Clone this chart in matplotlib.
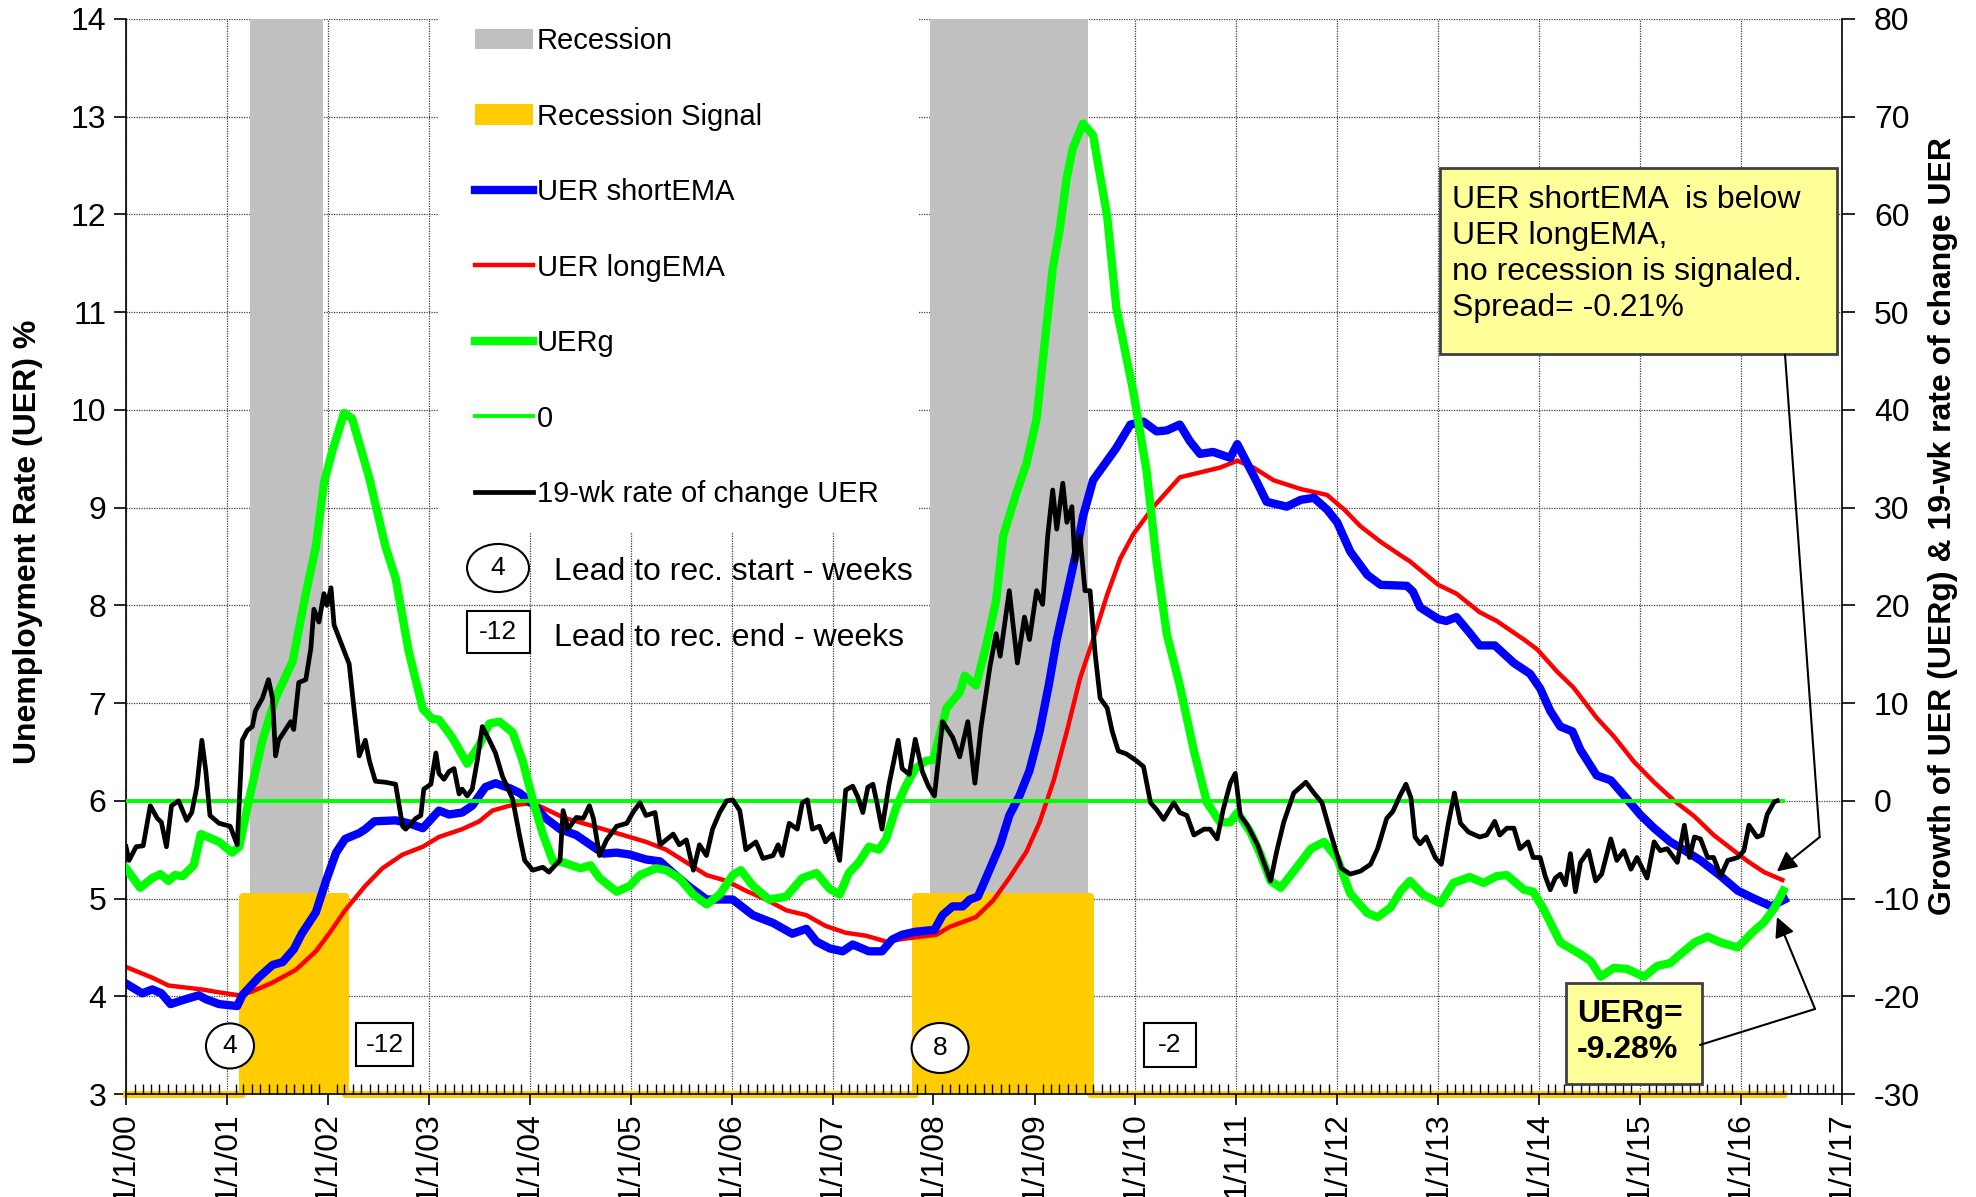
import matplotlib
matplotlib.use("Agg")
import matplotlib.pyplot as plt
import matplotlib.dates as mdates
from matplotlib.patches import Rectangle, Patch, Ellipse
from matplotlib.lines import Line2D
from matplotlib.ticker import FuncFormatter, MultipleLocator
import datetime as dt
import numpy as np

plt.rcParams['font.family'] = ['Liberation Sans', 'DejaVu Sans']
plt.rcParams['axes.unicode_minus'] = False

# ---------------- data (decimal years) ----------------
blue_t = [2000.00, 2000.16, 2000.26, 2000.35, 2000.44, 2000.59, 2000.72, 2000.79, 2000.92, 2001.10,
          2001.15, 2001.31, 2001.45, 2001.55, 2001.66, 2001.74, 2001.88, 2001.98, 2002.08, 2002.17,
          2002.31, 2002.37, 2002.46, 2002.67, 2002.80, 2002.94, 2003.10, 2003.20, 2003.33, 2003.43,
          2003.56, 2003.66, 2003.80, 2003.90, 2004.02, 2004.16, 2004.30, 2004.46, 2004.60, 2004.73,
          2004.86, 2004.99, 2005.15, 2005.29, 2005.42, 2005.58, 2005.75, 2005.88, 2006.01, 2006.11,
          2006.21, 2006.41, 2006.60, 2006.74, 2006.84, 2006.97, 2007.10, 2007.20, 2007.36, 2007.49,
          2007.59, 2007.69, 2007.82, 2008.01, 2008.09, 2008.19, 2008.29, 2008.36, 2008.44, 2008.52,
          2008.66, 2008.75, 2008.85, 2008.95, 2009.05, 2009.14, 2009.22, 2009.32, 2009.42, 2009.48,
          2009.58, 2009.72, 2009.81, 2009.95, 2010.08, 2010.21, 2010.31, 2010.44, 2010.54, 2010.64,
          2010.77, 2010.94, 2011.01, 2011.11, 2011.21, 2011.30, 2011.50, 2011.64, 2011.77, 2011.90,
          2012.00, 2012.13, 2012.30, 2012.43, 2012.69, 2012.75, 2012.82, 2013.00, 2013.08, 2013.18,
          2013.31, 2013.41, 2013.56, 2013.75, 2013.91, 2014.01, 2014.11, 2014.21, 2014.33, 2014.41,
          2014.57, 2014.71, 2014.87, 2015.00, 2015.14, 2015.30, 2015.40, 2015.60, 2015.80, 2015.97,
          2016.13, 2016.30, 2016.43]
blue_v = [4.13, 4.03, 4.07, 4.03, 3.92, 3.97, 4.01, 3.97, 3.92, 3.90,
          4.01, 4.19, 4.32, 4.35, 4.48, 4.64, 4.86, 5.18, 5.47, 5.61,
          5.67, 5.71, 5.79, 5.80, 5.77, 5.72, 5.90, 5.86, 5.88, 5.95,
          6.14, 6.18, 6.13, 6.08, 5.98, 5.82, 5.71, 5.65, 5.55, 5.46,
          5.47, 5.45, 5.40, 5.38, 5.26, 5.12, 4.99, 4.99, 4.99, 4.91,
          4.83, 4.75, 4.64, 4.69, 4.56, 4.49, 4.46, 4.53, 4.46, 4.46,
          4.58, 4.63, 4.66, 4.68, 4.83, 4.92, 4.92, 4.99, 5.02, 5.21,
          5.55, 5.85, 6.05, 6.31, 6.71, 7.18, 7.65, 8.11, 8.58, 8.91,
          9.28, 9.48, 9.61, 9.85, 9.88, 9.78, 9.79, 9.85, 9.68, 9.55,
          9.57, 9.51, 9.65, 9.45, 9.25, 9.06, 9.01, 9.08, 9.10, 8.98,
          8.85, 8.55, 8.31, 8.21, 8.20, 8.14, 7.98, 7.86, 7.84, 7.88,
          7.72, 7.59, 7.59, 7.41, 7.30, 7.15, 6.92, 6.76, 6.71, 6.52,
          6.26, 6.21, 6.02, 5.86, 5.72, 5.58, 5.52, 5.39, 5.23, 5.08,
          5.00, 4.92, 4.99]

red_t = [2000.00, 2000.26, 2000.42, 2000.75, 2000.92, 2001.12, 2001.25, 2001.45, 2001.68, 2001.88,
         2002.01, 2002.17, 2002.37, 2002.54, 2002.74, 2002.94, 2003.10, 2003.33, 2003.50, 2003.63,
         2003.80, 2003.96, 2004.09, 2004.29, 2004.36, 2004.63, 2004.89, 2005.15, 2005.35, 2005.55,
         2005.75, 2005.95, 2006.14, 2006.34, 2006.54, 2006.74, 2006.93, 2007.13, 2007.33, 2007.53,
         2007.72, 2008.03, 2008.16, 2008.42, 2008.59, 2008.75, 2008.92, 2009.05, 2009.19, 2009.32,
         2009.45, 2009.58, 2009.72, 2009.85, 2009.98, 2010.18, 2010.44, 2010.64, 2010.84, 2011.01,
         2011.17, 2011.37, 2011.64, 2011.90, 2012.07, 2012.23, 2012.43, 2012.63, 2012.72, 2013.00,
         2013.18, 2013.41, 2013.58, 2013.85, 2013.98, 2014.18, 2014.34, 2014.57, 2014.74, 2014.94,
         2015.14, 2015.34, 2015.54, 2015.73, 2015.93, 2016.07, 2016.23, 2016.41]
red_v = [4.30, 4.19, 4.11, 4.07, 4.04, 4.01, 4.05, 4.14, 4.27, 4.46,
         4.64, 4.88, 5.13, 5.31, 5.45, 5.53, 5.63, 5.71, 5.79, 5.90,
         5.95, 5.97, 5.95, 5.85, 5.82, 5.74, 5.66, 5.58, 5.50, 5.37,
         5.24, 5.18, 5.08, 4.99, 4.88, 4.83, 4.72, 4.65, 4.62, 4.56,
         4.59, 4.63, 4.71, 4.81, 4.98, 5.21, 5.48, 5.78, 6.21, 6.71,
         7.25, 7.65, 8.11, 8.48, 8.73, 9.01, 9.31, 9.36, 9.41, 9.48,
         9.41, 9.28, 9.19, 9.13, 8.98, 8.81, 8.65, 8.51, 8.45, 8.21,
         8.12, 7.93, 7.84, 7.65, 7.55, 7.32, 7.16, 6.85, 6.66, 6.40,
         6.19, 6.00, 5.84, 5.65, 5.49, 5.38, 5.27, 5.19]

uerg_t = [2000.00, 2000.14, 2000.26, 2000.34, 2000.42, 2000.48, 2000.56, 2000.67, 2000.74, 2000.92,
          2001.05, 2001.12, 2001.21, 2001.35, 2001.48, 2001.65, 2001.78, 2001.88, 2001.96, 2002.04,
          2002.16, 2002.24, 2002.41, 2002.57, 2002.67, 2002.80, 2002.94, 2003.03, 2003.10, 2003.23,
          2003.38, 2003.50, 2003.60, 2003.70, 2003.83, 2003.93, 2004.03, 2004.13, 2004.23, 2004.33,
          2004.50, 2004.60, 2004.69, 2004.86, 2004.99, 2005.09, 2005.25, 2005.35, 2005.48, 2005.62,
          2005.75, 2005.88, 2006.01, 2006.09, 2006.21, 2006.37, 2006.54, 2006.70, 2006.84, 2006.97,
          2007.07, 2007.16, 2007.26, 2007.36, 2007.46, 2007.53, 2007.63, 2007.72, 2007.82, 2007.93,
          2008.00, 2008.13, 2008.26, 2008.31, 2008.42, 2008.52, 2008.62, 2008.69, 2008.82, 2008.92,
          2009.02, 2009.11, 2009.18, 2009.25, 2009.32, 2009.38, 2009.48, 2009.58, 2009.72, 2009.81,
          2009.98, 2010.11, 2010.21, 2010.31, 2010.44, 2010.58, 2010.71, 2010.84, 2010.94, 2011.01,
          2011.14, 2011.24, 2011.34, 2011.44, 2011.57, 2011.74, 2011.87, 2012.00, 2012.13, 2012.30,
          2012.40, 2012.53, 2012.63, 2012.72, 2012.85, 2013.02, 2013.15, 2013.31, 2013.45, 2013.58,
          2013.68, 2013.85, 2013.94, 2014.04, 2014.21, 2014.41, 2014.51, 2014.61, 2014.74, 2014.87,
          2015.04, 2015.17, 2015.30, 2015.40, 2015.54, 2015.67, 2015.80, 2015.97, 2016.10, 2016.23,
          2016.33, 2016.42]
uerg_v = [-6.9, -8.9, -7.9, -7.5, -8.2, -7.6, -7.7, -6.6, -3.4, -4.2,
          -5.3, -4.7, -0.2, 6.2, 10.5, 14.3, 21.2, 26.0, 32.5, 35.7,
          39.7, 39.1, 33.0, 26.0, 22.8, 15.3, 9.4, 8.4, 8.3, 6.5,
          3.8, 5.7, 7.9, 8.1, 7.0, 4.1, 0.1, -3.4, -6.2, -6.3,
          -6.9, -6.6, -7.9, -9.3, -8.7, -7.6, -6.9, -7.1, -7.9, -9.6,
          -10.6, -9.6, -7.6, -7.1, -8.7, -10.1, -9.8, -7.9, -7.4, -9.0,
          -9.6, -7.4, -6.3, -4.7, -5.0, -3.9, -0.7, 1.4, 3.3, 4.1,
          4.2, 9.5, 11.1, 12.8, 11.8, 15.8, 20.5, 27.1, 31.5, 34.5,
          39.1, 47.8, 54.5, 58.5, 63.8, 66.8, 69.3, 68.1, 59.8, 50.5,
          41.8, 33.8, 24.5, 17.1, 11.8, 5.1, -0.2, -2.2, -2.2, -1.2,
          -3.2, -5.5, -8.2, -8.9, -7.2, -4.9, -4.2, -5.9, -9.5, -11.5,
          -11.9, -10.9, -9.2, -8.2, -9.6, -10.5, -8.4, -7.8, -8.4, -7.7,
          -7.6, -9.1, -9.3, -11.0, -14.5, -15.7, -16.4, -18.0, -17.1, -17.2,
          -18.0, -16.9, -16.6, -15.7, -14.5, -13.9, -14.5, -15.0, -13.6, -12.4,
          -11.0, -9.2]

roc_t = [2000.00, 2000.03, 2000.10, 2000.17, 2000.24, 2000.31, 2000.35, 2000.40, 2000.45, 2000.52,
         2000.60, 2000.65, 2000.70, 2000.75, 2000.79, 2000.83, 2000.92, 2001.03, 2001.10, 2001.15,
         2001.20, 2001.25, 2001.28, 2001.35, 2001.41, 2001.45, 2001.48, 2001.51, 2001.58, 2001.63,
         2001.66, 2001.71, 2001.78, 2001.83, 2001.86, 2001.91, 2001.96, 2001.99, 2002.03, 2002.06,
         2002.12, 2002.21, 2002.26, 2002.31, 2002.37, 2002.41, 2002.47, 2002.57, 2002.67, 2002.74,
         2002.77, 2002.87, 2002.92, 2002.95, 2003.02, 2003.07, 2003.10, 2003.15, 2003.20, 2003.25,
         2003.30, 2003.33, 2003.38, 2003.43, 2003.48, 2003.53, 2003.60, 2003.66, 2003.73, 2003.83,
         2003.90, 2003.95, 2004.03, 2004.13, 2004.19, 2004.26, 2004.30, 2004.33, 2004.38, 2004.46,
         2004.53, 2004.59, 2004.63, 2004.69, 2004.76, 2004.86, 2004.96, 2005.02, 2005.09, 2005.15,
         2005.24, 2005.29, 2005.42, 2005.48, 2005.55, 2005.62, 2005.68, 2005.75, 2005.81, 2005.88,
         2005.95, 2006.01, 2006.08, 2006.14, 2006.24, 2006.31, 2006.41, 2006.46, 2006.50, 2006.57,
         2006.65, 2006.70, 2006.75, 2006.80, 2006.87, 2006.93, 2007.00, 2007.07, 2007.13, 2007.20,
         2007.25, 2007.30, 2007.35, 2007.40, 2007.44, 2007.49, 2007.56, 2007.65, 2007.69, 2007.76,
         2007.82, 2007.89, 2007.95, 2008.01, 2008.09, 2008.19, 2008.26, 2008.34, 2008.41, 2008.47,
         2008.56, 2008.62, 2008.66, 2008.75, 2008.83, 2008.90, 2008.95, 2009.02, 2009.08, 2009.13,
         2009.18, 2009.22, 2009.28, 2009.32, 2009.37, 2009.40, 2009.45, 2009.50, 2009.55, 2009.60,
         2009.65, 2009.72, 2009.77, 2009.83, 2009.91, 2010.01, 2010.08, 2010.15, 2010.21, 2010.28,
         2010.38, 2010.44, 2010.51, 2010.58, 2010.68, 2010.74, 2010.81, 2010.87, 2010.94, 2010.99,
         2011.04, 2011.11, 2011.21, 2011.27, 2011.34, 2011.40, 2011.47, 2011.57, 2011.69, 2011.77,
         2011.85, 2011.94, 2012.04, 2012.13, 2012.23, 2012.33, 2012.40, 2012.49, 2012.55, 2012.62,
         2012.68, 2012.73, 2012.77, 2012.82, 2012.88, 2012.97, 2013.03, 2013.10, 2013.16, 2013.22,
         2013.30, 2013.41, 2013.48, 2013.56, 2013.61, 2013.68, 2013.75, 2013.81, 2013.89, 2013.94,
         2014.01, 2014.06, 2014.11, 2014.16, 2014.21, 2014.26, 2014.31, 2014.36, 2014.41, 2014.49,
         2014.56, 2014.62, 2014.71, 2014.77, 2014.84, 2014.91, 2014.97, 2015.07, 2015.14, 2015.20,
         2015.27, 2015.37, 2015.44, 2015.49, 2015.54, 2015.60, 2015.67, 2015.73, 2015.80, 2015.87,
         2015.97, 2016.03, 2016.08, 2016.16, 2016.21, 2016.26, 2016.33, 2016.36]
roc_v = [-4.7, -6.1, -4.7, -4.6, -0.5, -1.8, -2.2, -4.7, -0.5, 0.0,
         -2.0, -1.2, 1.4, 6.2, 3.0, -1.5, -2.3, -2.6, -4.5, 6.2,
         7.2, 7.6, 9.2, 10.5, 12.4, 10.5, 4.6, 6.2, 7.3, 8.1,
         7.3, 12.1, 12.4, 15.6, 19.6, 18.3, 21.2, 20.0, 21.8, 18.0,
         16.4, 14.0, 9.2, 4.6, 6.2, 4.1, 2.0, 1.9, 1.7, -2.6,
         -2.9, -1.8, -1.5, 1.2, 1.7, 4.9, 2.8, 2.2, 3.0, 3.3,
         0.7, 1.2, 0.5, 1.2, 4.1, 7.6, 6.2, 4.9, 2.5, 0.2,
         -3.6, -6.1, -7.1, -6.8, -7.3, -6.5, -6.1, -1.0, -2.9, -1.7,
         -1.8, -0.5, -1.8, -5.6, -4.0, -2.6, -2.3, -1.2, -0.2, -1.5,
         -1.2, -4.5, -3.4, -4.5, -4.0, -7.1, -4.5, -5.6, -2.9, -1.2,
         0.0, 0.1, -1.0, -5.0, -4.2, -5.9, -5.6, -4.5, -5.6, -2.3,
         -2.9, -0.2, 0.1, -2.9, -2.6, -4.2, -3.4, -6.1, 1.1, 1.5,
         0.4, -1.2, 1.4, 1.7, -0.2, -2.9, 1.7, 6.2, 3.3, 2.7,
         6.3, 3.0, 1.5, 0.5, 8.1, 6.5, 4.5, 8.1, 1.8, 7.5,
         13.8, 17.1, 14.8, 21.5, 14.1, 18.8, 16.5, 21.5, 20.1, 27.1,
         31.8, 27.8, 32.5, 28.5, 30.1, 24.5, 27.1, 21.5, 21.5, 15.1,
         10.5, 9.5, 7.1, 5.1, 4.8, 4.1, 3.5, -0.2, -0.9, -1.9,
         -0.2, -1.2, -1.5, -3.5, -2.9, -2.9, -3.9, -0.9, 1.8, 2.8,
         -1.5, -2.5, -4.5, -6.2, -8.2, -5.2, -2.2, 0.8, 1.9, 0.8,
         -0.2, -3.5, -6.9, -7.5, -7.2, -6.5, -4.9, -1.8, -1.1, 0.5,
         1.7, 0.3, -3.7, -4.4, -3.7, -5.8, -6.5, -2.3, 0.8, -2.3,
         -3.2, -3.7, -3.5, -2.1, -3.5, -2.8, -2.8, -4.9, -4.2, -5.8,
         -5.8, -7.7, -9.1, -7.9, -7.5, -8.6, -5.4, -9.3, -6.3, -5.1,
         -8.2, -7.5, -3.9, -6.1, -5.1, -7.0, -5.8, -7.9, -4.2, -5.1,
         -4.9, -6.3, -2.5, -5.8, -3.7, -3.9, -5.8, -5.8, -7.7, -6.1,
         -5.8, -5.1, -2.5, -3.7, -3.5, -1.4, -0.1, 0.0]

rec_start = ["2001-03-23", "2007-12-20"]
rec_end = ["2001-12-14", "2009-07-12"]
sig_start = ["2001-02-23", "2007-10-25"]
sig_end = ["2002-03-04", "2009-07-19"]
sig_level = 5.03

lead_start = ["4", "8"]
lead_end = ["-12", "-2"]

legend_labels = ["Recession", "Recession Signal", "UER shortEMA", "UER longEMA",
                 "UERg", "0", "19-wk rate of change UER"]

C_BLUE, C_RED, C_GREEN, C_BLACK = "#0000FF", "#FF0000", "#00FF00", "#000000"
C_GRAY, C_YEL, C_BOX = "#C0C0C0", "#FFCC00", "#FFFF99"


def to_dt(y):
    yi = int(np.floor(y))
    a = dt.datetime(yi, 1, 1)
    b = dt.datetime(yi + 1, 1, 1)
    return a + (b - a) * (y - yi)


def dts(lst):
    return [to_dt(v) for v in lst]


def pdt(s):
    return dt.datetime.strptime(s, "%Y-%m-%d")


W, H = 1976, 1197
fig = plt.figure(figsize=(W / 100, H / 100), dpi=100)
ax = fig.add_axes([126 / W, 1 - 1094 / H, 1716 / W, 1075 / H])
ax2 = ax.twinx()

ax.set_xlim(dt.datetime(2000, 1, 1), dt.datetime(2017, 1, 1))
ax.set_ylim(3, 14)
ax2.set_ylim(-30, 80)
ax.set_axisbelow(True)

# gridlines on ax
ax.xaxis.set_major_locator(mdates.YearLocator())
ax.xaxis.set_minor_locator(mdates.MonthLocator())
ax.yaxis.set_major_locator(MultipleLocator(1))
ax2.yaxis.set_major_locator(MultipleLocator(10))
ax.grid(True, which='major', axis='both', linestyle=(0, (1, 1)), color='#404040', lw=0.9)

# recession shading
for s, e in zip(rec_start, rec_end):
    ax.axvspan(pdt(s), pdt(e), color=C_GRAY, lw=0, zorder=1)

# recession signal series (step)
data_start = to_dt(uerg_t[0])
data_end = to_dt(uerg_t[-1])
st = [data_start]
sv = [3.0]
for s, e in zip(sig_start, sig_end):
    st += [pdt(s), pdt(s), pdt(e), pdt(e)]
    sv += [3.0, sig_level, sig_level, 3.0]
st.append(data_end)
sv.append(3.0)
ax.fill_between(st, 3.0, sv, color=C_YEL, lw=0, zorder=1.1)
ax.plot(st, sv, color=C_YEL, lw=5, zorder=1.2, clip_on=False, solid_joinstyle='round')

# white legend background
ax.add_patch(Rectangle((0.182, 0.523), 0.2795, 0.477, transform=ax.transAxes,
                       facecolor='white', edgecolor='none', zorder=1.3))

# left-axis series
ax.plot(dts(red_t), red_v, color=C_RED, lw=3.2, zorder=2, solid_joinstyle='round')
ax.plot(dts(blue_t), blue_v, color=C_BLUE, lw=6, zorder=2.1, solid_joinstyle='round')

# right-axis series
ud = dts(uerg_t)
ax2.plot(ud, np.zeros(len(uerg_v)), color=C_GREEN, lw=2.8, zorder=2)
ax2.plot(ud, uerg_v, color=C_GREEN, lw=6, zorder=2.1, solid_joinstyle='round')
ax2.plot(dts(roc_t), roc_v, color=C_BLACK, lw=3.4, zorder=2.2, solid_joinstyle='round')

# spines
for sp in ['top', 'right']:
    ax.spines[sp].set_visible(False)
for sp in ['top', 'left', 'bottom']:
    ax2.spines[sp].set_visible(False)
ax.spines['left'].set_linewidth(1.2)
ax.spines['bottom'].set_linewidth(1.2)
ax2.spines['right'].set_linewidth(1.2)

# x ticks drawn by ax2 (on top of the shading)
ax2.xaxis.set_visible(True)
ax.tick_params(axis='x', which='both', length=0, labelbottom=False)
ax2.xaxis.set_ticks_position('bottom')


def fmt_date(x, pos):
    d = mdates.num2date(x)
    return f"{d.month}/{d.day}/{d:%y}"


ax2.xaxis.set_major_formatter(FuncFormatter(fmt_date))
ax2.tick_params(axis='x', which='major', direction='out', length=8, width=1.2,
                labelsize=23, labelrotation=90, pad=5, bottom=True, labelbottom=True)
ax2.tick_params(axis='x', which='minor', direction='in', length=7, width=1, bottom=True)
ax.tick_params(axis='y', direction='out', length=9, width=1.2, labelsize=23, pad=5)
ax2.tick_params(axis='y', direction='out', length=9, width=1.2, labelsize=23, pad=14)
ax.set_xlim(dt.datetime(2000, 1, 1), dt.datetime(2017, 1, 1))

# axis titles
fig.text(28 / W, 1 - 542 / H, "Unemployment Rate (UER) %", rotation=90, ha='center', va='center',
         fontsize=23, fontweight='bold')
fig.text(1943 / W, 1 - 526 / H, "Growth of UER (UERg) & 19-wk rate of change UER", rotation=90,
         ha='center', va='center', fontsize=23, fontweight='bold')

# legend
handles = [Patch(facecolor=C_GRAY, edgecolor='none'),
           Patch(facecolor=C_YEL, edgecolor='none'),
           Line2D([], [], color=C_BLUE, lw=6),
           Line2D([], [], color=C_RED, lw=3.2),
           Line2D([], [], color=C_GREEN, lw=6),
           Line2D([], [], color=C_GREEN, lw=2.8),
           Line2D([], [], color=C_BLACK, lw=3.4)]
leg = ax2.legend(handles, legend_labels, loc='upper left', bbox_to_anchor=(475 / W, 1 - 27 / H),
                 bbox_transform=fig.transFigure, frameon=False, fontsize=21, labelspacing=1.63,
                 handlelength=2.0, handletextpad=0.12, borderpad=0, borderaxespad=0)

# lead markers (legend part)
T = ax2.transAxes
ax2.add_patch(Ellipse((0.2168, 0.4893), 0.0361, 0.0447, transform=T, fc='white', ec='black', lw=1.5, zorder=5))
ax2.text(0.2168, 0.4893, lead_start[0], transform=T, ha='center', va='center', fontsize=19, zorder=6)
ax2.add_patch(Rectangle((0.2168 - 0.0367 / 2, 0.4298 - 0.039 / 2), 0.0367, 0.039, transform=T,
                        fc='white', ec='black', lw=1.5, zorder=5))
ax2.text(0.2168, 0.4298, lead_end[0], transform=T, ha='center', va='center', fontsize=19, zorder=6)
ax2.text(0.2494, 0.4856, "Lead to rec. start - weeks", transform=T, ha='left', va='center', fontsize=23, zorder=6)
ax2.text(0.2494, 0.4242, "Lead to rec. end - weeks", transform=T, ha='left', va='center', fontsize=23, zorder=6)

# lead markers in chart
for (cx, cy, w, h), lab in zip([(0.0606, 0.0447, 0.028, 0.0419), (0.4744, 0.0428, 0.0332, 0.0465)], lead_start):
    ax2.add_patch(Ellipse((cx, cy), w, h, transform=T, fc='white', ec='black', lw=1.5, zorder=5))
    ax2.text(cx, cy, lab, transform=T, ha='center', va='center', fontsize=19, zorder=6)
for (cx, cy, w, h), lab in zip([(0.1509, 0.0456, 0.0332, 0.040), (0.6084, 0.0456, 0.0303, 0.041)], lead_end):
    ax2.add_patch(Rectangle((cx - w / 2, cy - h / 2), w, h, transform=T, fc='white', ec='black', lw=1.5, zorder=5))
    ax2.text(cx, cy, lab, transform=T, ha='center', va='center', fontsize=19, zorder=6)

# annotation box 1
ax2.add_patch(Rectangle((0.7657, 0.6884), 0.2314, 0.173, transform=T, fc=C_BOX, ec='#404040', lw=2, zorder=7))
ax2.text(0.7727, 0.8455, "UER shortEMA  is below\nUER longEMA,\nno recession is signaled.\nSpread= -0.21%",
         transform=T, ha='left', va='top', fontsize=23, linespacing=1.26, zorder=8)
ax2.annotate('', xy=(0.987, 0.239), xytext=(0.9668, 0.6877), xycoords='axes fraction',
             arrowprops=dict(arrowstyle='-', color='black', lw=1.5, shrinkA=0, shrinkB=0), zorder=7)
ax2.annotate('', xy=(0.962, 0.207), xytext=(0.987, 0.239), xycoords='axes fraction',
             arrowprops=dict(arrowstyle='-|>', mutation_scale=30, color='black', lw=1.5, shrinkA=0, shrinkB=0), zorder=7)

# annotation box 2
ax2.add_patch(Rectangle((0.8392, 0.0093), 0.0792, 0.094, transform=T, fc=C_BOX, ec='#404040', lw=2, zorder=7))
ax2.text(0.8456, 0.0885, "UERg=\n-9.28%", transform=T, ha='left', va='top', fontsize=23,
         fontweight='bold', linespacing=1.25, zorder=8)
ax2.annotate('', xy=(0.9843, 0.0791), xytext=(0.9172, 0.0456), xycoords='axes fraction',
             arrowprops=dict(arrowstyle='-', color='black', lw=1.5, shrinkA=0, shrinkB=0), zorder=7)
ax2.annotate('', xy=(0.9621, 0.1647), xytext=(0.9843, 0.0791), xycoords='axes fraction',
             arrowprops=dict(arrowstyle='-|>', mutation_scale=30, color='black', lw=1.5, shrinkA=0, shrinkB=0), zorder=7)

fig.savefig("out.png", dpi=100)
